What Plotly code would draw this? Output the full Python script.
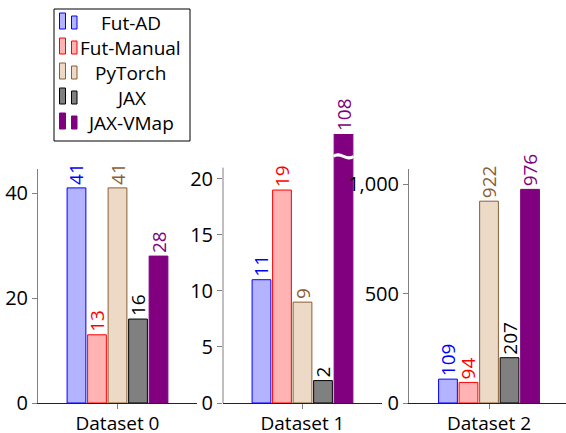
import plotly.graph_objects as go

# ---- data ----
datasets = ["Dataset 0", "Dataset 1", "Dataset 2"]
series = ["Fut-AD", "Fut-Manual", "PyTorch", "JAX", "JAX-VMap"]
fut_ad = [41, 11, 109]
fut_manual = [13, 19, 94]
pytorch = [41, 9, 922]
jax = [16, 2, 207]
jax_vmap = [28, 108, 976]
values = [fut_ad, fut_manual, pytorch, jax, jax_vmap]
y_ticks = [[0, 20, 40], [0, 5, 10, 15, 20], [0, 500, 1000]]

# ---- styles ----
fills = ["#B3B3FF", "#FFB3B3", "#ECD9C6", "#808080", "#800080"]
strokes = ["#0000FF", "#FF0000", "#8B5E34", "#000000", "#800080"]
label_colors = ["#0000FF", "#FF0000", "#8B5E34", "#000000", "#800080"]
FONT = "Open Sans"
W, H = 566, 433

def pxx(x):
    return x / W

def pxy(y):
    return 1 - y / H

y_ranges = [[0, 44.6], [0, 24.0], [0, 1069]]
axis_line_top = [None, 21.0, None]   # subplot 2: axis drawn only up to 21 (broken bar)
caps = [None, 24.0, None]
x_domains = [[38, 197], [223, 382], [409, 566]]
x_ranges = [[-0.5, 0.5], [-0.5, 0.5], [-0.503, 0.484]]
y_bottom = 403
y_tops = [169, 134, 169]

slot = 0.129
bw = 0.118

fig = go.Figure()
for d in range(3):
    ax = "" if d == 0 else str(d + 1)
    for k, s in enumerate(series):
        v = values[k][d]
        h = v if caps[d] is None else min(v, caps[d])
        fig.add_trace(go.Bar(
            x=[0], y=[h], text=[str(v)],
            offset=(k - 2) * slot - bw / 2, width=bw,
            marker=dict(color=fills[k], line=dict(color=strokes[k], width=1)),
            textposition="outside", textangle=-90, constraintext="none",
            cliponaxis=False,
            textfont=dict(family=FONT, size=19, color=label_colors[k]),
            xaxis="x" + ax, yaxis="y" + ax, showlegend=False, name=s,
            hoverinfo="skip",
        ))

layout = dict(
    width=W, height=H, margin=dict(l=0, r=0, t=0, b=0, autoexpand=False),
    paper_bgcolor="white", plot_bgcolor="white",
    barmode="overlay", font=dict(family=FONT, size=19, color="#000"),
    showlegend=False,
)
for d in range(3):
    ax = "" if d == 0 else str(d + 1)
    layout["xaxis" + ax] = dict(
        domain=[pxx(x_domains[d][0]), pxx(x_domains[d][1])],
        range=x_ranges[d], anchor="y" + ax, automargin=False,
        tickvals=[0], ticktext=[datasets[d]],
        showline=True, linecolor="#222", linewidth=1,
        ticks="outside", ticklen=5, tickcolor="#808080",
        ticklabelstandoff=-2,
        showgrid=False, zeroline=False, fixedrange=True,
        tickfont=dict(family=FONT, size=19, color="#000"),
    )
    layout["yaxis" + ax] = dict(
        domain=[1 - y_bottom / H, 1 - y_tops[d] / H],
        range=y_ranges[d], anchor="x" + ax, automargin=False,
        tickvals=y_ticks[d], separatethousands=True, tickformat=",d",
        showline=axis_line_top[d] is None, linecolor="#808080", linewidth=1,
        ticks="outside", ticklen=5, tickcolor="#808080",
        showgrid=False, zeroline=False, fixedrange=True,
        tickfont=dict(family=FONT, size=20, color="#000"),
    )
fig.update_layout(**layout)

shapes = []
# partial y-axis line for broken subplot
shapes.append(dict(type="line", xref="x2 domain", yref="y2", x0=0, x1=0,
                   y0=0, y1=axis_line_top[1], line=dict(color="#808080", width=1)))
# break mark on the capped bar
xc = (4 - 2) * slot
x0b, x1b = xc - bw / 2 - 0.004, xc + bw / 2 + 0.004
yb = 22.0
path = (f"M {x0b},{yb} C {x0b + (x1b - x0b) / 3},{yb + 0.5} "
        f"{x0b + 2 * (x1b - x0b) / 3},{yb - 0.5} {x1b},{yb}")
shapes.append(dict(type="path", xref="x2", yref="y2", path=path,
                   line=dict(color="white", width=3)))

# legend box
shapes.append(dict(type="rect", xref="paper", yref="paper",
                   x0=pxx(54), x1=pxx(190), y0=pxy(141), y1=pxy(9),
                   line=dict(color="#000", width=1), fillcolor="white"))
annotations = []
for k, s in enumerate(series):
    yc = 23 + 25 * k
    shapes.append(dict(type="rect", xref="paper", yref="paper",
                       x0=pxx(59.5), x1=pxx(65.5), y0=pxy(yc + 6), y1=pxy(yc - 10),
                       line=dict(color=strokes[k], width=1), fillcolor=fills[k]))
    shapes.append(dict(type="rect", xref="paper", yref="paper",
                       x0=pxx(71.5), x1=pxx(77), y0=pxy(yc + 6), y1=pxy(yc - 7),
                       line=dict(color=strokes[k], width=1), fillcolor=fills[k]))
    annotations.append(dict(xref="paper", yref="paper", x=pxx(130.5), y=pxy(yc),
                            text=s, showarrow=False, xanchor="center", yanchor="middle",
                            font=dict(family=FONT, size=19, color="#000")))
fig.update_layout(shapes=shapes, annotations=annotations)

fig.write_html(
    "out.html",
    config={"displayModeBar": False},
    post_script="document.body.style.margin='0';document.body.style.overflow='hidden';",
)
